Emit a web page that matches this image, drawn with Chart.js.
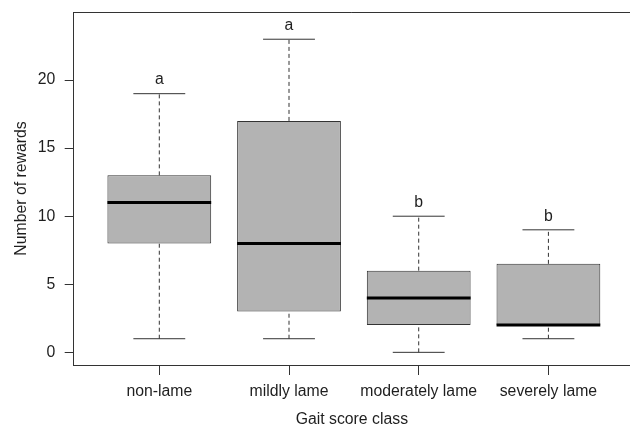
<!DOCTYPE html>
<html>
<head>
<meta charset="utf-8">
<script src="https://cdn.jsdelivr.net/npm/chart.js@4"></script>
<style>
  html, body { margin: 0; padding: 0; background: #fff; }
  canvas { display: block; }
</style>
</head>
<body>
<canvas id="c" width="630" height="425"></canvas>
<script>
// ---- data ----
const categories   = ['non-lame', 'mildly lame', 'moderately lame', 'severely lame'];
const whiskerLow   = [1, 1, 0, 1];
const lowerQuart   = [8, 3, 2, 2];
const medians      = [11, 8, 4, 2];
const upperQuart   = [13, 17, 6, 6.5];
const whiskerHigh  = [19, 23, 10, 9];
const groupLetters = ['a', 'a', 'b', 'b'];
const yTickValues  = [0, 5, 10, 15, 20];

const FONT = { family: '"Liberation Sans", Arial, Helvetica, sans-serif', size: 15.8, lineHeight: 1 };
const TEXT = '#1e1e1e';
const LINE = '#333333';
const BOX_HALF = 0.4, CAP_HALF = 0.2;

const pos = categories.map((_, i) => i + 1);
const gap = x => ({ x: x, y: null });

const boxData = pos.map((x, i) => ({ x: x, y: [lowerQuart[i], upperQuart[i]] }));
const whiskerData = pos.flatMap((x, i) => [
  { x: x, y: whiskerLow[i] }, { x: x, y: lowerQuart[i] }, gap(x),
  { x: x, y: upperQuart[i] }, { x: x, y: whiskerHigh[i] }, gap(x)
]);
const capData = pos.flatMap((x, i) => [
  { x: x - CAP_HALF, y: whiskerLow[i] }, { x: x + CAP_HALF, y: whiskerLow[i] }, gap(x),
  { x: x - CAP_HALF, y: whiskerHigh[i] }, { x: x + CAP_HALF, y: whiskerHigh[i] }, gap(x)
]);
const medianData = pos.flatMap((x, i) => [
  { x: x - BOX_HALF, y: medians[i] }, { x: x + BOX_HALF, y: medians[i] }, gap(x)
]);

const lineDs = (data, extra) => Object.assign({
  type: 'scatter', data: data, showLine: true, spanGaps: false,
  pointRadius: 0, pointHoverRadius: 0, fill: false, tension: 0
}, extra);

const framePlugin = {
  id: 'frameAndLetters',
  afterDatasetsDraw(chart) {
    const { ctx, chartArea, scales } = chart;
    ctx.save();
    // top frame line (right side lies beyond the canvas edge)
    ctx.strokeStyle = LINE;
    ctx.lineWidth = 1;
    ctx.beginPath();
    const ty = Math.round(chartArea.top) + 0.5;
    ctx.moveTo(chartArea.left, ty);
    ctx.lineTo(chartArea.right, ty);
    ctx.stroke();
    // significance letters
    ctx.fillStyle = TEXT;
    ctx.font = `${FONT.size}px ${FONT.family}`;
    ctx.textAlign = 'center';
    ctx.textBaseline = 'middle';
    pos.forEach((x, i) => {
      ctx.fillText(groupLetters[i],
        scales.x.getPixelForValue(x),
        scales.y.getPixelForValue(whiskerHigh[i] + 1));
    });
    ctx.restore();
  }
};

new Chart(document.getElementById('c'), {
  data: {
    datasets: [
      { type: 'bar', data: boxData, backgroundColor: '#b3b3b3', borderColor: LINE,
        borderWidth: 1, borderSkipped: false, barPercentage: 0.8, categoryPercentage: 1.0, order: 4 },
      lineDs(whiskerData, { borderColor: LINE, borderWidth: 1, borderDash: [4, 3], order: 3 }),
      lineDs(capData, { borderColor: LINE, borderWidth: 1, order: 2 }),
      lineDs(medianData, { borderColor: '#000', borderWidth: 3, borderCapStyle: 'butt', order: 1 })
    ]
  },
  options: {
    responsive: false,
    devicePixelRatio: 1,
    animation: false,
    layout: { padding: { left: 12, top: 12, right: 0, bottom: 0 } },
    plugins: { legend: { display: false }, tooltip: { enabled: false } },
    scales: {
      x: {
        type: 'linear', position: 'bottom', min: 0.34, max: 4.629, offset: false,
        afterBuildTicks: s => { s.ticks = pos.map(v => ({ value: v })); },
        afterFit: s => { s.height = 60; s.paddingLeft = 0; s.paddingRight = 0; },
        ticks: { callback: v => categories[v - 1], color: TEXT, font: FONT,
                 padding: 9, autoSkip: false, maxRotation: 0 },
        grid: { display: true, offset: false, drawOnChartArea: false, drawTicks: true, tickLength: 10, color: LINE },
        border: { display: true, color: LINE, width: 1 },
        title: { display: true, text: 'Gait score class', color: TEXT, font: FONT, padding: { top: 0, bottom: -3 } }
      },
      y: {
        type: 'linear', position: 'left', min: -0.93, max: 25.0,
        afterBuildTicks: s => { s.ticks = yTickValues.map(v => ({ value: v })); },
        afterFit: s => { s.width = 61.7; s.paddingTop = 0; s.paddingBottom = 0; },
        ticks: { color: TEXT, font: FONT, padding: 9.5 },
        grid: { display: true, drawOnChartArea: false, drawTicks: true, tickLength: 9, color: LINE },
        border: { display: true, color: LINE, width: 1 },
        title: { display: true, text: 'Number of rewards', color: TEXT, font: FONT, padding: { top: 2, bottom: 0 } }
      }
    }
  },
  plugins: [framePlugin]
});
</script>
</body>
</html>
